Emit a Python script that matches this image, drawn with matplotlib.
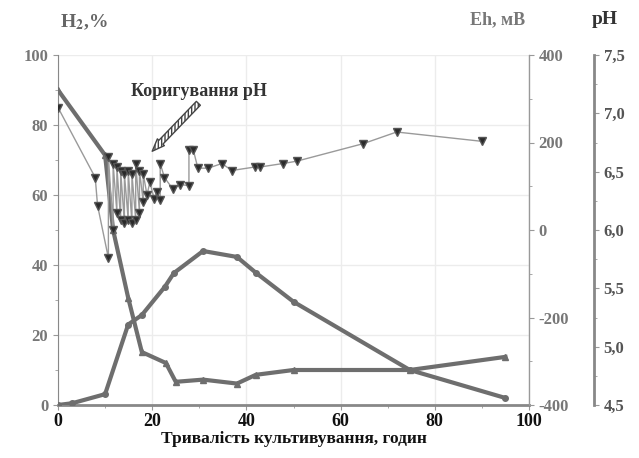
import matplotlib
matplotlib.use("Agg")
import matplotlib.pyplot as plt
from matplotlib.ticker import MultipleLocator

plt.rcParams['font.family'] = ['Liberation Serif', 'DejaVu Serif']
plt.rcParams['font.weight'] = 'bold'
plt.rcParams['axes.labelweight'] = 'bold'
plt.rcParams['axes.unicode_minus'] = False
plt.rcParams['mathtext.fontset'] = 'stix'

# H2 content in gas phase, %
h2_x = [0, 3, 10, 14.9, 17.8, 22.7, 24.6, 30.8, 38, 42, 50, 74.7, 95]
h2_y = [0, 0.5, 3.1, 23, 25.7, 33.8, 37.7, 44, 42.3, 37.8, 29.5, 10, 2]

# redox potential Eh, mV
eh_x = [0, 10, 11.7, 14.9, 17.8, 22.9, 25, 30.8, 38, 42, 50, 74.7, 95]
eh_y = [320, 171, 0, -155, -279, -304, -347, -342, -351, -331, -320, -320, -290]

# pH of the medium (with corrections)
ph_x = [0, 7.9, 8.4, 10.7, 10.7, 11.7, 11.7, 12.5, 12.5, 13.3, 13.3, 14.1, 14.1,
        14.9, 14.9, 15.7, 15.7, 16.5, 16.5, 17.3, 17.3, 18.1, 18.1, 18.9, 19.5,
        20.4, 21.0, 21.7, 21.7, 22.6, 24.4, 25.9, 27.8, 27.8, 28.7, 29.7, 31.9,
        34.8, 36.9, 41.8, 42.9, 47.8, 50.7, 64.8, 71.9, 90]
ph_y = [7.05, 6.45, 6.21, 5.76, 6.63, 6.00, 6.57, 6.15, 6.54, 6.09, 6.51, 6.06, 6.48,
        6.09, 6.51, 6.06, 6.48, 6.09, 6.57, 6.15, 6.51, 6.24, 6.48, 6.30, 6.41,
        6.27, 6.33, 6.26, 6.57, 6.45, 6.35, 6.39, 6.38, 6.69, 6.69, 6.53, 6.53,
        6.57, 6.51, 6.54, 6.54, 6.57, 6.59, 6.74, 6.84, 6.76]

grey = '#6e6e6e'
fig = plt.figure(figsize=(6.39, 4.58), dpi=100)
ax = fig.add_axes([58/639, 1 - 405/458, (529 - 58)/639, 350/458])
ax_eh = ax.twinx()
ax_ph = ax.twinx()

ax.set_xlim(0, 100)
ax.set_ylim(0, 100)
ax_eh.set_ylim(-400, 400)
ax_ph.set_ylim(4.5, 7.5)

ax.grid(True, color='#ececec', lw=1)
ax.set_axisbelow(True)

ax_ph.plot(ph_x, ph_y, color='#9a9a9a', lw=1, marker='v', ms=6,
           mfc='#2a2a2a', mec='#555555', zorder=3)
ax.plot(h2_x, h2_y, color=grey, lw=3, marker='o', ms=4, mfc=grey, mec=grey, zorder=4)
ax_eh.plot(eh_x, eh_y, color=grey, lw=3, marker='^', ms=4, mfc=grey, mec=grey, zorder=4)

# spines
for a in (ax, ax_eh, ax_ph):
    a.spines['top'].set_visible(False)
ax.spines['left'].set_color('#888888')
ax.spines['bottom'].set_color('#888888')
ax.spines['bottom'].set_linewidth(2)
ax_eh.spines['right'].set_color('#999999')
ax_eh.spines['left'].set_visible(False)
ax_eh.spines['bottom'].set_visible(False)
ax_ph.spines['left'].set_visible(False)
ax_ph.spines['bottom'].set_visible(False)
ax_ph.spines['right'].set_position(('axes', 1.138))
ax_ph.spines['right'].set_color('#888888')
ax_ph.spines['right'].set_linewidth(2)

ax.xaxis.set_major_locator(MultipleLocator(20))
ax.xaxis.set_minor_locator(MultipleLocator(10))
ax.yaxis.set_major_locator(MultipleLocator(20))
ax.yaxis.set_minor_locator(MultipleLocator(10))
ax_eh.yaxis.set_major_locator(MultipleLocator(200))
ax_eh.yaxis.set_minor_locator(MultipleLocator(100))
ax_ph.yaxis.set_major_locator(MultipleLocator(0.5))
ax_ph.yaxis.set_minor_locator(MultipleLocator(0.25))

ax.tick_params(axis='x', which='both', colors='#999999', labelcolor='#111111',
               labelsize=13, direction='out', pad=2)
ax.tick_params(axis='y', which='both', colors='#999999', labelcolor='#777777',
               labelsize=12, direction='out')
ax_eh.tick_params(axis='y', which='both', colors='#999999', labelcolor='#777777',
                  labelsize=12, direction='out')
ax_ph.tick_params(axis='y', which='both', colors='#999999', labelcolor='#555555',
                  labelsize=12, direction='out')
ax_ph.yaxis.set_major_formatter(plt.FuncFormatter(lambda v, p: f'{v:.1f}'.replace('.', ',')))
for a in (ax, ax_eh, ax_ph):
    for lab in a.get_xticklabels() + a.get_yticklabels():
        lab.set_fontweight('bold')

ax.set_xlabel('Тривалість культивування, годин', fontsize=12.5, color='#111111',
              fontweight='bold', labelpad=1)

fig.text(60/639, 1 - 22/458, 'H$_\\mathbf{2}$,%', fontsize=14, color='#666666',
         ha='left', va='center', fontweight='bold')
fig.text(525/639, 1 - 20/458, 'Eh, мВ', fontsize=13, color='#777777', ha='right',
         va='center', fontweight='bold')
fig.text(605/639, 1 - 20/458, 'pH', fontsize=14, color='#333333', ha='center',
         va='center', fontweight='bold')

ax.text(30, 89.5, 'Коригування pH', fontsize=13, color='#333333', ha='center',
        va='center', fontweight='bold')
ax.annotate('', xy=(20, 72.5), xytext=(29.8, 86.2),
            arrowprops=dict(arrowstyle='simple,head_length=0.9,head_width=0.7,tail_width=0.4',
                            fc='white', ec='#444444', lw=1, hatch='|||||',
                            shrinkA=0, shrinkB=0))

fig.savefig('out.png', dpi=100)
